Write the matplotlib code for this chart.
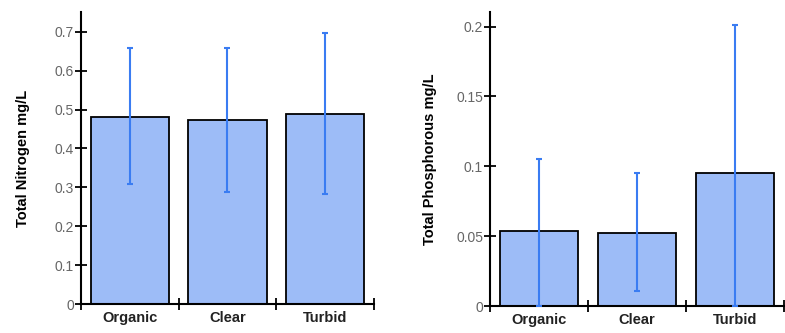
import matplotlib.pyplot as plt
import numpy as np

plt.rcParams['font.family'] = ['Liberation Sans', 'DejaVu Sans']

categories = ["Organic", "Clear", "Turbid"]

nitrogen = [0.481, 0.472, 0.488]
nitrogen_upper = [0.658, 0.658, 0.697]
nitrogen_lower = [0.308, 0.288, 0.283]

phosphorus = [0.054, 0.0525, 0.095]
phosphorus_upper = [0.105, 0.095, 0.2015]
phosphorus_lower = [0.0, 0.011, 0.0]

nitrogen_ticks = [0, 0.1, 0.2, 0.3, 0.4, 0.5, 0.6, 0.7]
nitrogen_ticklabels = ["0", "0.1", "0.2", "0.3", "0.4", "0.5", "0.6", "0.7"]
phosphorus_ticks = [0, 0.05, 0.1, 0.15, 0.2]
phosphorus_ticklabels = ["0", "0.05", "0.1", "0.15", "0.2"]

bar_color = '#9dbcf7'
err_color = '#3a7cf2'


def draw_panel(ax, values, upper, lower, yticks, yticklabels, ylim, ylabel, labelpad):
    x = np.arange(len(categories))
    values = np.array(values)
    yerr = [values - np.array(lower), np.array(upper) - values]
    ax.bar(x, values, width=0.8, color=bar_color, edgecolor='black',
           linewidth=1.3, zorder=2)
    ax.errorbar(x, values, yerr=yerr, fmt='none', ecolor=err_color,
                elinewidth=1.5, capsize=2.5, capthick=1.5, zorder=3)

    ax.set_xlim(-0.5, len(categories) - 0.5)
    ax.set_ylim(*ylim)
    # major ticks sit between the categories, labels go on minor ticks
    ax.set_xticks(np.arange(len(categories) + 1) - 0.5)
    ax.set_xticklabels([])
    ax.set_xticks(x, minor=True)
    ax.set_xticklabels(categories, minor=True, fontweight='bold',
                       fontsize=10.5, color='#222222')
    ax.tick_params(axis='x', which='major', direction='inout', length=8,
                   width=1.3)
    ax.tick_params(axis='x', which='minor', length=0, pad=5)
    ax.set_yticks(yticks)
    ax.set_yticklabels(yticklabels, fontsize=10, color='#666666')
    ax.tick_params(axis='y', direction='inout', length=8, width=1.3, pad=1)

    for s in ['top', 'right']:
        ax.spines[s].set_visible(False)
    for s in ['left', 'bottom']:
        ax.spines[s].set_linewidth(1.5)

    ax.set_ylabel(ylabel, fontweight='bold', fontsize=10.5, labelpad=labelpad)


fig = plt.figure(figsize=(7.85, 3.33), dpi=100)
ax1 = fig.add_axes([81 / 785, 0.087, 293 / 785, 0.877])
ax2 = fig.add_axes([490 / 785, 0.081, 294 / 785, 0.883])

draw_panel(ax1, nitrogen, nitrogen_upper, nitrogen_lower, nitrogen_ticks,
           nitrogen_ticklabels, (0, 0.751), "Total Nitrogen mg/L", 18)
draw_panel(ax2, phosphorus, phosphorus_upper, phosphorus_lower,
           phosphorus_ticks, phosphorus_ticklabels, (0, 0.2105),
           "Total Phosphorous mg/L", 14)

fig.savefig("out.png", dpi=100)
